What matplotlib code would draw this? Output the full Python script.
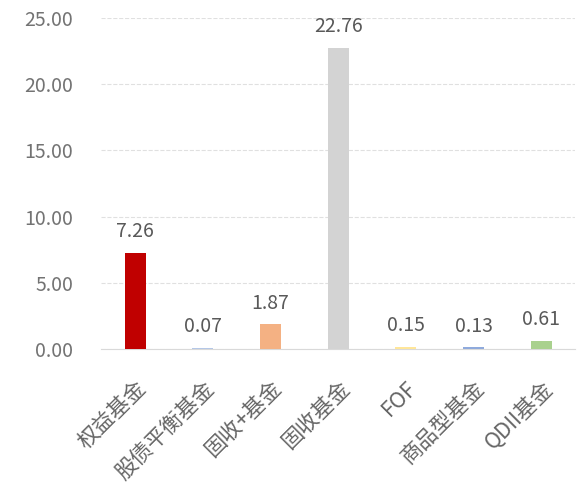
import matplotlib.pyplot as plt

plt.rcParams['font.family'] = ['Noto Sans CJK SC', 'DejaVu Sans']

categories = ['权益基金', '股债平衡基金', '固收+基金', '固收基金', 'FOF', '商品型基金', 'QDII基金']
values = [7.26, 0.07, 1.87, 22.76, 0.15, 0.13, 0.61]
colors = ['#C00000', '#B4C7E7', '#F4B183', '#D3D3D3', '#FFE699', '#8FAADC', '#A9D18E']
yticks = [0, 5, 10, 15, 20, 25]

fig = plt.figure(figsize=(5.85, 4.86), dpi=100)
ax = fig.add_axes([0.173, 0.282, 0.81, 0.681])

x = range(len(categories))
ax.bar(x, values, width=0.31, color=colors, zorder=3)
for i, v in zip(x, values):
    ax.text(i, v + 0.8, f'{v:.2f}', ha='center', va='bottom', fontsize=14, color='#595959')

ax.set_ylim(0, 25)
ax.set_xlim(-0.5, len(categories) - 0.5)
ax.set_yticks(yticks)
ax.set_yticklabels([f'{t:.2f}' for t in yticks], fontsize=14, color='#737373')
ax.set_xticks(list(x))
ax.set_xticklabels(categories, rotation=45, ha='right', rotation_mode='anchor',
                   fontsize=15.5, color='#666666')
ax.tick_params(axis='y', length=0, pad=20)
ax.tick_params(axis='x', length=0, pad=20)
ax.yaxis.grid(True, linestyle='--', color='#E0E0E0', linewidth=0.8, zorder=0)
for s in ['top', 'right', 'left']:
    ax.spines[s].set_visible(False)
ax.spines['bottom'].set_color('#D9D9D9')

fig.savefig('out.png', dpi=100)
